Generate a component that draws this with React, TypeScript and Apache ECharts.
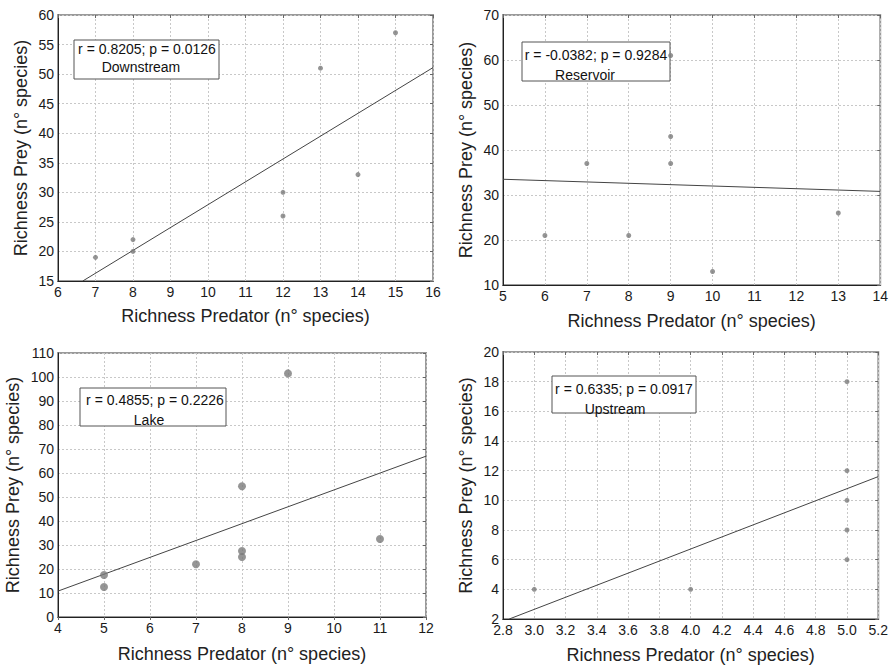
import React, { useEffect, useRef } from "react";
import * as echarts from "echarts";

// ---- Data ----
const downstreamPredator = [7, 8, 8, 12, 12, 13, 14, 15];
const downstreamPrey = [19, 22, 20, 30, 26, 51, 33, 57];
const downstreamFitX = [6.66, 16];
const downstreamFitY = [15, 51.1];

const reservoirPredator = [6, 7, 8, 9, 9, 9, 10, 13];
const reservoirPrey = [21, 37, 21, 61, 43, 37, 13, 26];
const reservoirFitX = [5, 14];
const reservoirFitY = [33.5, 30.8];

const lakePredator = [5, 5, 7, 8, 8, 8, 9, 11];
const lakePrey = [17.5, 12.5, 22, 54.5, 27.5, 25, 101.5, 32.5];
const lakeFitX = [4, 12];
const lakeFitY = [10.8, 67];

const upstreamPredator = [3, 4, 5, 5, 5, 5, 5];
const upstreamPrey = [4, 4, 18, 12, 10, 8, 6];
const upstreamFitX = [2.84, 5.2];
const upstreamFitY = [2, 11.6];

const statLabels = [
  "r = 0.8205; p = 0.0126",
  "r = -0.0382; p = 0.9284",
  "r = 0.4855; p = 0.2226",
  "r = 0.6335; p = 0.0917",
];
const siteLabels = ["Downstream", "Reservoir", "Lake", "Upstream"];

const xAxisName = "Richness Predator (n° species)";
const yAxisName = "Richness Prey (n° species)";

const FONT = "Liberation Sans, Arial, sans-serif";

const panels = [
  {
    px: downstreamPredator, py: downstreamPrey, fx: downstreamFitX, fy: downstreamFitY,
    grid: { left: 58, top: 15, width: 375, height: 266 },
    x: { min: 6, max: 16, interval: 1 }, y: { min: 15, max: 60, interval: 5 },
    sym: 5, xGap: 26, yGap: 28,
    box: { x: 74, y: 40, w: 145, h: 39, l1x: 147, l1y: 49, l2x: 141, l2y: 67 },
    dec: 0,
  },
  {
    px: reservoirPredator, py: reservoirPrey, fx: reservoirFitX, fy: reservoirFitY,
    grid: { left: 503, top: 15, width: 383, height: 270 },
    x: { min: 5, max: 14, interval: 1 }, y: { min: 10, max: 70, interval: 10 },
    sym: 5, xGap: 27, yGap: 28,
    box: { x: 522, y: 42, w: 148, h: 39, l1x: 596, l1y: 55, l2x: 585, l2y: 75 },
    dec: 0,
  },
  {
    px: lakePredator, py: lakePrey, fx: lakeFitX, fy: lakeFitY,
    grid: { left: 58, top: 353, width: 368, height: 264 },
    x: { min: 4, max: 12, interval: 1 }, y: { min: 0, max: 110, interval: 10 },
    sym: 8, xGap: 28, yGap: 36,
    box: { x: 80, y: 388, w: 146, h: 38, l1x: 155, l1y: 400, l2x: 149, l2y: 420 },
    dec: 0,
  },
  {
    px: upstreamPredator, py: upstreamPrey, fx: upstreamFitX, fy: upstreamFitY,
    grid: { left: 503, top: 352, width: 380, height: 268 },
    x: { min: 2.8, max: 5.2, interval: 0.2 }, y: { min: 2, max: 20, interval: 2 },
    sym: 5, xGap: 27, yGap: 28,
    box: { x: 552, y: 376, w: 144, h: 37, l1x: 624, l1y: 389, l2x: 615, l2y: 409 },
    dec: 1,
  },
];

export default function App() {
  const ref = useRef<HTMLDivElement>(null);
  useEffect(() => {
    if (!ref.current) return;
    const chart = echarts.init(ref.current, null, { renderer: "svg" });
    const grids: any[] = [];
    const xAxes: any[] = [];
    const yAxes: any[] = [];
    const series: any[] = [];
    const graphic: any[] = [];
    panels.forEach((p, i) => {
      grids.push({
        ...p.grid,
        show: true,
        borderColor: "#9a9a9a",
        borderWidth: 2,
        backgroundColor: "#fff",
      });
      const labelStyle = { color: "#1a1a1a", fontSize: 14, fontFamily: FONT };
      xAxes.push({
        type: "value",
        gridIndex: i,
        position: "bottom",
        min: p.x.min,
        max: p.x.max,
        interval: p.x.interval,
        name: xAxisName,
        nameLocation: "middle",
        nameGap: p.xGap,
        nameTextStyle: { color: "#222", fontSize: 18, fontFamily: FONT },
        axisLine: { show: true, onZero: false, lineStyle: { color: "#222", width: 1 } },
        axisTick: { show: false },
        axisLabel: {
          ...labelStyle,
          margin: 4,
          formatter: (v: number) => v.toFixed(p.dec),
        },
        splitLine: { show: true, lineStyle: { color: "#c8c8c8", type: [2, 2], width: 1 } },
      });
      xAxes.push({
        type: "value",
        gridIndex: i,
        position: "top",
        min: p.x.min,
        max: p.x.max,
        interval: p.x.interval,
        axisLine: { show: false },
        axisTick: { show: true, inside: true, length: 3, lineStyle: { color: "#666" } },
        axisLabel: { show: false },
        splitLine: { show: false },
      });
      yAxes.push({
        type: "value",
        gridIndex: i,
        position: "left",
        min: p.y.min,
        max: p.y.max,
        interval: p.y.interval,
        name: yAxisName,
        nameLocation: "middle",
        nameGap: p.yGap,
        nameTextStyle: { color: "#222", fontSize: 18, fontFamily: FONT },
        axisLine: { show: true, onZero: false, lineStyle: { color: "#222", width: 1 } },
        axisTick: { show: false },
        axisLabel: { ...labelStyle, margin: 4 },
        splitLine: { show: true, lineStyle: { color: "#c8c8c8", type: [2, 2], width: 1 } },
      });
      yAxes.push({
        type: "value",
        gridIndex: i,
        position: "right",
        min: p.y.min,
        max: p.y.max,
        interval: p.y.interval,
        axisLine: { show: false },
        axisTick: { show: true, inside: true, length: 3, lineStyle: { color: "#666" } },
        axisLabel: { show: false },
        splitLine: { show: false },
      });
      series.push({
        type: "line",
        xAxisIndex: i * 2,
        yAxisIndex: i * 2,
        data: p.fx.map((x, k) => [x, p.fy[k]]),
        showSymbol: false,
        symbol: "none",
        lineStyle: { color: "#444", width: 1 },
        z: 3,
      });
      series.push({
        type: "scatter",
        xAxisIndex: i * 2,
        yAxisIndex: i * 2,
        data: p.px.map((x, k) => [x, p.py[k]]),
        symbol: "circle",
        symbolSize: p.sym,
        itemStyle: { color: "#7a7a7a" },
        z: 4,
      });
      const b = p.box;
      graphic.push({
        type: "rect",
        shape: { x: b.x, y: b.y, width: b.w, height: b.h },
        style: { fill: "#fff", stroke: "#555", lineWidth: 1 },
        z: 1,
      });
      graphic.push({
        type: "text",
        x: b.l1x,
        y: b.l1y,
        style: {
          text: statLabels[i],
          fill: "#111",
          font: `14px ${FONT}`,
          textAlign: "center",
          textVerticalAlign: "middle",
        },
        z: 2,
      });
      graphic.push({
        type: "text",
        x: b.l2x,
        y: b.l2y,
        style: {
          text: siteLabels[i],
          fill: "#111",
          font: `14px ${FONT}`,
          textAlign: "center",
          textVerticalAlign: "middle",
        },
        z: 2,
      });
    });
    chart.setOption({
      animation: false,
      backgroundColor: "#fff",
      grid: grids,
      xAxis: xAxes,
      yAxis: yAxes,
      series,
      graphic,
    });
    return () => chart.dispose();
  }, []);
  return (
    <div
      ref={ref}
      style={{ position: "fixed", left: 0, top: 0, width: 891, height: 665, background: "#fff" }}
    />
  );
}
